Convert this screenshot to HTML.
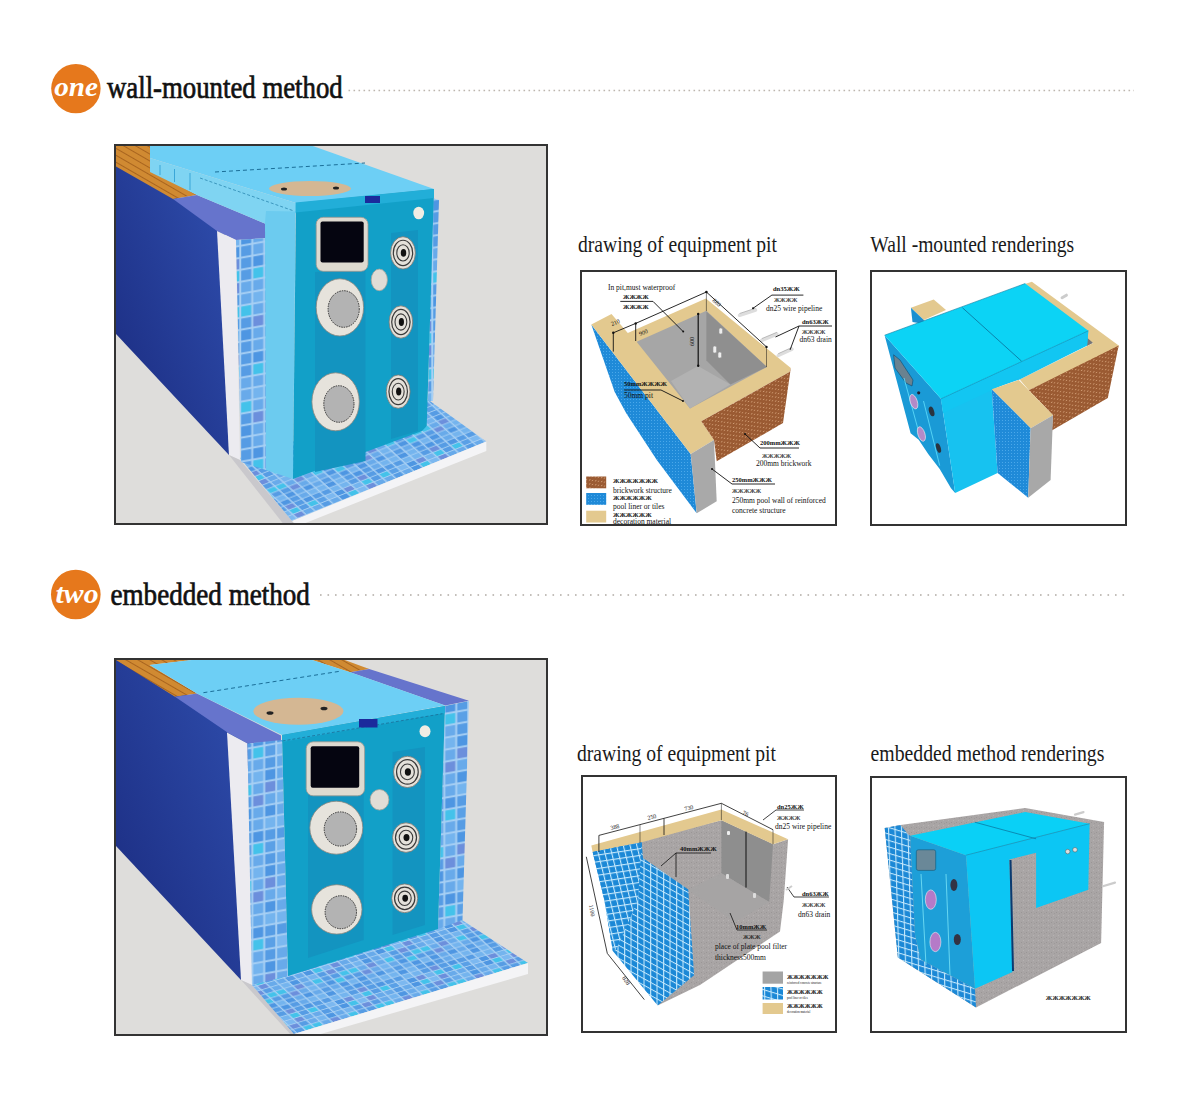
<!DOCTYPE html>
<html><head><meta charset="utf-8">
<style>
html,body{margin:0;padding:0;background:#fff;width:1200px;height:1112px;overflow:hidden}
svg{display:block}
text{font-family:"Liberation Serif",serif}
</style></head><body>
<svg width="1200" height="1112" viewBox="0 0 1200 1112">
<defs>
<linearGradient id="gDark1" x1="0" y1="1" x2="1" y2="0">
 <stop offset="0" stop-color="#1a2a7e"/><stop offset="1" stop-color="#3050b0"/>
</linearGradient>
<linearGradient id="gDark4" x1="0" y1="1" x2="1" y2="0"><stop offset="0" stop-color="#1a2a7e"/><stop offset="1" stop-color="#3050b0"/></linearGradient><pattern id="wood" width="6" height="6" patternUnits="userSpaceOnUse" patternTransform="rotate(30)">
 <rect width="6" height="6" fill="#d08a32"/><rect y="4" width="6" height="1" fill="#a8641e"/>
</pattern>
<pattern id="tiles" width="8" height="8" patternUnits="userSpaceOnUse">
 <rect width="8" height="8" fill="#e6f2fc"/>
 <rect x="0.5" y="0.5" width="7" height="7" fill="#5aa2e6"/>
</pattern>
<pattern id="btile" width="3" height="3" patternUnits="userSpaceOnUse">
 <rect width="3" height="3" fill="#1f8ad8"/><rect width="1" height="1" fill="#4aa8ea"/>
</pattern>
<pattern id="gtile" width="6.5" height="6.5" patternUnits="userSpaceOnUse" patternTransform="matrix(1,0.3,0.03,1,0,0)"><rect width="6.5" height="6.5" fill="#c4e8fc"/><rect x="1.1" y="1.1" width="5.4" height="5.4" fill="#1b88d6"/></pattern><pattern id="gtileL" width="6.5" height="6.5" patternUnits="userSpaceOnUse" patternTransform="matrix(1,-0.15,0.25,1,0,0)"><rect width="6.5" height="6.5" fill="#c4e8fc"/><rect x="1.1" y="1.1" width="5.4" height="5.4" fill="#1b88d6"/></pattern><pattern id="gtile2" width="6.5" height="6.5" patternUnits="userSpaceOnUse" patternTransform="matrix(1,0.55,0,1,0,0)"><rect width="6.5" height="6.5" fill="#c4e8fc"/><rect x="1.1" y="1.1" width="5.4" height="5.4" fill="#1b88d6"/></pattern>
<pattern id="brick" width="6" height="4" patternUnits="userSpaceOnUse" patternTransform="skewY(-28)">
 <rect width="6" height="4" fill="#9a5a32"/><rect x="1" y="1" width="1.2" height="1" fill="#e0b088"/><rect x="4" y="3" width="1.2" height="1" fill="#d8a47a"/>
</pattern>
<pattern id="conc" width="5" height="5" patternUnits="userSpaceOnUse"><rect width="5" height="5" fill="#a9a5a5"/><rect x="1" y="2" width="1" height="1" fill="#9a9696"/><rect x="3" y="0" width="1" height="1" fill="#b6b2b2"/><rect x="4" y="3" width="1" height="1" fill="#9e9a9a"/></pattern>
<pattern id="mosW" width="40" height="40" patternUnits="userSpaceOnUse" patternTransform="skewY(-10) scale(2.4)"><rect width="40" height="40" fill="#a8d0f4"/><rect x="0.5" y="0.5" width="4.2" height="4.2" fill="#4e96e2"/><rect x="0.5" y="5.5" width="4.2" height="4.2" fill="#74b4ee"/><rect x="0.5" y="10.5" width="4.2" height="4.2" fill="#4e96e2"/><rect x="0.5" y="15.5" width="4.2" height="4.2" fill="#4e96e2"/><rect x="0.5" y="20.5" width="4.2" height="4.2" fill="#74b4ee"/><rect x="0.5" y="25.5" width="4.2" height="4.2" fill="#44c2ea"/><rect x="0.5" y="30.5" width="4.2" height="4.2" fill="#68aaea"/><rect x="0.5" y="35.5" width="4.2" height="4.2" fill="#569ce4"/><rect x="5.5" y="0.5" width="4.2" height="4.2" fill="#74b4ee"/><rect x="5.5" y="5.5" width="4.2" height="4.2" fill="#74b4ee"/><rect x="5.5" y="10.5" width="4.2" height="4.2" fill="#6c8fdc"/><rect x="5.5" y="15.5" width="4.2" height="4.2" fill="#44c2ea"/><rect x="5.5" y="20.5" width="4.2" height="4.2" fill="#569ce4"/><rect x="5.5" y="25.5" width="4.2" height="4.2" fill="#569ce4"/><rect x="5.5" y="30.5" width="4.2" height="4.2" fill="#4e96e2"/><rect x="5.5" y="35.5" width="4.2" height="4.2" fill="#68aaea"/><rect x="10.5" y="0.5" width="4.2" height="4.2" fill="#569ce4"/><rect x="10.5" y="5.5" width="4.2" height="4.2" fill="#569ce4"/><rect x="10.5" y="10.5" width="4.2" height="4.2" fill="#74b4ee"/><rect x="10.5" y="15.5" width="4.2" height="4.2" fill="#7cb8f0"/><rect x="10.5" y="20.5" width="4.2" height="4.2" fill="#6c8fdc"/><rect x="10.5" y="25.5" width="4.2" height="4.2" fill="#569ce4"/><rect x="10.5" y="30.5" width="4.2" height="4.2" fill="#44c2ea"/><rect x="10.5" y="35.5" width="4.2" height="4.2" fill="#4e96e2"/><rect x="15.5" y="0.5" width="4.2" height="4.2" fill="#4e96e2"/><rect x="15.5" y="5.5" width="4.2" height="4.2" fill="#6c8fdc"/><rect x="15.5" y="10.5" width="4.2" height="4.2" fill="#44c2ea"/><rect x="15.5" y="15.5" width="4.2" height="4.2" fill="#6c8fdc"/><rect x="15.5" y="20.5" width="4.2" height="4.2" fill="#569ce4"/><rect x="15.5" y="25.5" width="4.2" height="4.2" fill="#44c2ea"/><rect x="15.5" y="30.5" width="4.2" height="4.2" fill="#569ce4"/><rect x="15.5" y="35.5" width="4.2" height="4.2" fill="#74b4ee"/><rect x="20.5" y="0.5" width="4.2" height="4.2" fill="#569ce4"/><rect x="20.5" y="5.5" width="4.2" height="4.2" fill="#569ce4"/><rect x="20.5" y="10.5" width="4.2" height="4.2" fill="#569ce4"/><rect x="20.5" y="15.5" width="4.2" height="4.2" fill="#68aaea"/><rect x="20.5" y="20.5" width="4.2" height="4.2" fill="#68aaea"/><rect x="20.5" y="25.5" width="4.2" height="4.2" fill="#44c2ea"/><rect x="20.5" y="30.5" width="4.2" height="4.2" fill="#569ce4"/><rect x="20.5" y="35.5" width="4.2" height="4.2" fill="#4e96e2"/><rect x="25.5" y="0.5" width="4.2" height="4.2" fill="#68aaea"/><rect x="25.5" y="5.5" width="4.2" height="4.2" fill="#4e96e2"/><rect x="25.5" y="10.5" width="4.2" height="4.2" fill="#44c2ea"/><rect x="25.5" y="15.5" width="4.2" height="4.2" fill="#68aaea"/><rect x="25.5" y="20.5" width="4.2" height="4.2" fill="#74b4ee"/><rect x="25.5" y="25.5" width="4.2" height="4.2" fill="#68aaea"/><rect x="25.5" y="30.5" width="4.2" height="4.2" fill="#6c8fdc"/><rect x="25.5" y="35.5" width="4.2" height="4.2" fill="#68aaea"/><rect x="30.5" y="0.5" width="4.2" height="4.2" fill="#74b4ee"/><rect x="30.5" y="5.5" width="4.2" height="4.2" fill="#569ce4"/><rect x="30.5" y="10.5" width="4.2" height="4.2" fill="#5aa0e6"/><rect x="30.5" y="15.5" width="4.2" height="4.2" fill="#569ce4"/><rect x="30.5" y="20.5" width="4.2" height="4.2" fill="#4e96e2"/><rect x="30.5" y="25.5" width="4.2" height="4.2" fill="#6c8fdc"/><rect x="30.5" y="30.5" width="4.2" height="4.2" fill="#68aaea"/><rect x="30.5" y="35.5" width="4.2" height="4.2" fill="#4e96e2"/><rect x="35.5" y="0.5" width="4.2" height="4.2" fill="#74b4ee"/><rect x="35.5" y="5.5" width="4.2" height="4.2" fill="#569ce4"/><rect x="35.5" y="10.5" width="4.2" height="4.2" fill="#7cb8f0"/><rect x="35.5" y="15.5" width="4.2" height="4.2" fill="#68aaea"/><rect x="35.5" y="20.5" width="4.2" height="4.2" fill="#68aaea"/><rect x="35.5" y="25.5" width="4.2" height="4.2" fill="#68aaea"/><rect x="35.5" y="30.5" width="4.2" height="4.2" fill="#74b4ee"/><rect x="35.5" y="35.5" width="4.2" height="4.2" fill="#68aaea"/></pattern><pattern id="mosF1" width="40" height="40" patternUnits="userSpaceOnUse" patternTransform="matrix(1.8,-0.72,0.9,0.82,0,0)"><rect width="40" height="40" fill="#a8d0f4"/><rect x="0.5" y="0.5" width="4.2" height="4.2" fill="#4e96e2"/><rect x="0.5" y="5.5" width="4.2" height="4.2" fill="#74b4ee"/><rect x="0.5" y="10.5" width="4.2" height="4.2" fill="#4e96e2"/><rect x="0.5" y="15.5" width="4.2" height="4.2" fill="#4e96e2"/><rect x="0.5" y="20.5" width="4.2" height="4.2" fill="#74b4ee"/><rect x="0.5" y="25.5" width="4.2" height="4.2" fill="#44c2ea"/><rect x="0.5" y="30.5" width="4.2" height="4.2" fill="#68aaea"/><rect x="0.5" y="35.5" width="4.2" height="4.2" fill="#569ce4"/><rect x="5.5" y="0.5" width="4.2" height="4.2" fill="#74b4ee"/><rect x="5.5" y="5.5" width="4.2" height="4.2" fill="#74b4ee"/><rect x="5.5" y="10.5" width="4.2" height="4.2" fill="#6c8fdc"/><rect x="5.5" y="15.5" width="4.2" height="4.2" fill="#44c2ea"/><rect x="5.5" y="20.5" width="4.2" height="4.2" fill="#569ce4"/><rect x="5.5" y="25.5" width="4.2" height="4.2" fill="#569ce4"/><rect x="5.5" y="30.5" width="4.2" height="4.2" fill="#4e96e2"/><rect x="5.5" y="35.5" width="4.2" height="4.2" fill="#68aaea"/><rect x="10.5" y="0.5" width="4.2" height="4.2" fill="#569ce4"/><rect x="10.5" y="5.5" width="4.2" height="4.2" fill="#569ce4"/><rect x="10.5" y="10.5" width="4.2" height="4.2" fill="#74b4ee"/><rect x="10.5" y="15.5" width="4.2" height="4.2" fill="#7cb8f0"/><rect x="10.5" y="20.5" width="4.2" height="4.2" fill="#6c8fdc"/><rect x="10.5" y="25.5" width="4.2" height="4.2" fill="#569ce4"/><rect x="10.5" y="30.5" width="4.2" height="4.2" fill="#44c2ea"/><rect x="10.5" y="35.5" width="4.2" height="4.2" fill="#4e96e2"/><rect x="15.5" y="0.5" width="4.2" height="4.2" fill="#4e96e2"/><rect x="15.5" y="5.5" width="4.2" height="4.2" fill="#6c8fdc"/><rect x="15.5" y="10.5" width="4.2" height="4.2" fill="#44c2ea"/><rect x="15.5" y="15.5" width="4.2" height="4.2" fill="#6c8fdc"/><rect x="15.5" y="20.5" width="4.2" height="4.2" fill="#569ce4"/><rect x="15.5" y="25.5" width="4.2" height="4.2" fill="#44c2ea"/><rect x="15.5" y="30.5" width="4.2" height="4.2" fill="#569ce4"/><rect x="15.5" y="35.5" width="4.2" height="4.2" fill="#74b4ee"/><rect x="20.5" y="0.5" width="4.2" height="4.2" fill="#569ce4"/><rect x="20.5" y="5.5" width="4.2" height="4.2" fill="#569ce4"/><rect x="20.5" y="10.5" width="4.2" height="4.2" fill="#569ce4"/><rect x="20.5" y="15.5" width="4.2" height="4.2" fill="#68aaea"/><rect x="20.5" y="20.5" width="4.2" height="4.2" fill="#68aaea"/><rect x="20.5" y="25.5" width="4.2" height="4.2" fill="#44c2ea"/><rect x="20.5" y="30.5" width="4.2" height="4.2" fill="#569ce4"/><rect x="20.5" y="35.5" width="4.2" height="4.2" fill="#4e96e2"/><rect x="25.5" y="0.5" width="4.2" height="4.2" fill="#68aaea"/><rect x="25.5" y="5.5" width="4.2" height="4.2" fill="#4e96e2"/><rect x="25.5" y="10.5" width="4.2" height="4.2" fill="#44c2ea"/><rect x="25.5" y="15.5" width="4.2" height="4.2" fill="#68aaea"/><rect x="25.5" y="20.5" width="4.2" height="4.2" fill="#74b4ee"/><rect x="25.5" y="25.5" width="4.2" height="4.2" fill="#68aaea"/><rect x="25.5" y="30.5" width="4.2" height="4.2" fill="#6c8fdc"/><rect x="25.5" y="35.5" width="4.2" height="4.2" fill="#68aaea"/><rect x="30.5" y="0.5" width="4.2" height="4.2" fill="#74b4ee"/><rect x="30.5" y="5.5" width="4.2" height="4.2" fill="#569ce4"/><rect x="30.5" y="10.5" width="4.2" height="4.2" fill="#5aa0e6"/><rect x="30.5" y="15.5" width="4.2" height="4.2" fill="#569ce4"/><rect x="30.5" y="20.5" width="4.2" height="4.2" fill="#4e96e2"/><rect x="30.5" y="25.5" width="4.2" height="4.2" fill="#6c8fdc"/><rect x="30.5" y="30.5" width="4.2" height="4.2" fill="#68aaea"/><rect x="30.5" y="35.5" width="4.2" height="4.2" fill="#4e96e2"/><rect x="35.5" y="0.5" width="4.2" height="4.2" fill="#74b4ee"/><rect x="35.5" y="5.5" width="4.2" height="4.2" fill="#569ce4"/><rect x="35.5" y="10.5" width="4.2" height="4.2" fill="#7cb8f0"/><rect x="35.5" y="15.5" width="4.2" height="4.2" fill="#68aaea"/><rect x="35.5" y="20.5" width="4.2" height="4.2" fill="#68aaea"/><rect x="35.5" y="25.5" width="4.2" height="4.2" fill="#68aaea"/><rect x="35.5" y="30.5" width="4.2" height="4.2" fill="#74b4ee"/><rect x="35.5" y="35.5" width="4.2" height="4.2" fill="#68aaea"/></pattern><pattern id="mosF2" width="40" height="40" patternUnits="userSpaceOnUse" patternTransform="matrix(1.8,-0.54,0.9,0.82,0,0)"><rect width="40" height="40" fill="#a8d0f4"/><rect x="0.5" y="0.5" width="4.2" height="4.2" fill="#4e96e2"/><rect x="0.5" y="5.5" width="4.2" height="4.2" fill="#74b4ee"/><rect x="0.5" y="10.5" width="4.2" height="4.2" fill="#4e96e2"/><rect x="0.5" y="15.5" width="4.2" height="4.2" fill="#4e96e2"/><rect x="0.5" y="20.5" width="4.2" height="4.2" fill="#74b4ee"/><rect x="0.5" y="25.5" width="4.2" height="4.2" fill="#44c2ea"/><rect x="0.5" y="30.5" width="4.2" height="4.2" fill="#68aaea"/><rect x="0.5" y="35.5" width="4.2" height="4.2" fill="#569ce4"/><rect x="5.5" y="0.5" width="4.2" height="4.2" fill="#74b4ee"/><rect x="5.5" y="5.5" width="4.2" height="4.2" fill="#74b4ee"/><rect x="5.5" y="10.5" width="4.2" height="4.2" fill="#6c8fdc"/><rect x="5.5" y="15.5" width="4.2" height="4.2" fill="#44c2ea"/><rect x="5.5" y="20.5" width="4.2" height="4.2" fill="#569ce4"/><rect x="5.5" y="25.5" width="4.2" height="4.2" fill="#569ce4"/><rect x="5.5" y="30.5" width="4.2" height="4.2" fill="#4e96e2"/><rect x="5.5" y="35.5" width="4.2" height="4.2" fill="#68aaea"/><rect x="10.5" y="0.5" width="4.2" height="4.2" fill="#569ce4"/><rect x="10.5" y="5.5" width="4.2" height="4.2" fill="#569ce4"/><rect x="10.5" y="10.5" width="4.2" height="4.2" fill="#74b4ee"/><rect x="10.5" y="15.5" width="4.2" height="4.2" fill="#7cb8f0"/><rect x="10.5" y="20.5" width="4.2" height="4.2" fill="#6c8fdc"/><rect x="10.5" y="25.5" width="4.2" height="4.2" fill="#569ce4"/><rect x="10.5" y="30.5" width="4.2" height="4.2" fill="#44c2ea"/><rect x="10.5" y="35.5" width="4.2" height="4.2" fill="#4e96e2"/><rect x="15.5" y="0.5" width="4.2" height="4.2" fill="#4e96e2"/><rect x="15.5" y="5.5" width="4.2" height="4.2" fill="#6c8fdc"/><rect x="15.5" y="10.5" width="4.2" height="4.2" fill="#44c2ea"/><rect x="15.5" y="15.5" width="4.2" height="4.2" fill="#6c8fdc"/><rect x="15.5" y="20.5" width="4.2" height="4.2" fill="#569ce4"/><rect x="15.5" y="25.5" width="4.2" height="4.2" fill="#44c2ea"/><rect x="15.5" y="30.5" width="4.2" height="4.2" fill="#569ce4"/><rect x="15.5" y="35.5" width="4.2" height="4.2" fill="#74b4ee"/><rect x="20.5" y="0.5" width="4.2" height="4.2" fill="#569ce4"/><rect x="20.5" y="5.5" width="4.2" height="4.2" fill="#569ce4"/><rect x="20.5" y="10.5" width="4.2" height="4.2" fill="#569ce4"/><rect x="20.5" y="15.5" width="4.2" height="4.2" fill="#68aaea"/><rect x="20.5" y="20.5" width="4.2" height="4.2" fill="#68aaea"/><rect x="20.5" y="25.5" width="4.2" height="4.2" fill="#44c2ea"/><rect x="20.5" y="30.5" width="4.2" height="4.2" fill="#569ce4"/><rect x="20.5" y="35.5" width="4.2" height="4.2" fill="#4e96e2"/><rect x="25.5" y="0.5" width="4.2" height="4.2" fill="#68aaea"/><rect x="25.5" y="5.5" width="4.2" height="4.2" fill="#4e96e2"/><rect x="25.5" y="10.5" width="4.2" height="4.2" fill="#44c2ea"/><rect x="25.5" y="15.5" width="4.2" height="4.2" fill="#68aaea"/><rect x="25.5" y="20.5" width="4.2" height="4.2" fill="#74b4ee"/><rect x="25.5" y="25.5" width="4.2" height="4.2" fill="#68aaea"/><rect x="25.5" y="30.5" width="4.2" height="4.2" fill="#6c8fdc"/><rect x="25.5" y="35.5" width="4.2" height="4.2" fill="#68aaea"/><rect x="30.5" y="0.5" width="4.2" height="4.2" fill="#74b4ee"/><rect x="30.5" y="5.5" width="4.2" height="4.2" fill="#569ce4"/><rect x="30.5" y="10.5" width="4.2" height="4.2" fill="#5aa0e6"/><rect x="30.5" y="15.5" width="4.2" height="4.2" fill="#569ce4"/><rect x="30.5" y="20.5" width="4.2" height="4.2" fill="#4e96e2"/><rect x="30.5" y="25.5" width="4.2" height="4.2" fill="#6c8fdc"/><rect x="30.5" y="30.5" width="4.2" height="4.2" fill="#68aaea"/><rect x="30.5" y="35.5" width="4.2" height="4.2" fill="#4e96e2"/><rect x="35.5" y="0.5" width="4.2" height="4.2" fill="#74b4ee"/><rect x="35.5" y="5.5" width="4.2" height="4.2" fill="#569ce4"/><rect x="35.5" y="10.5" width="4.2" height="4.2" fill="#7cb8f0"/><rect x="35.5" y="15.5" width="4.2" height="4.2" fill="#68aaea"/><rect x="35.5" y="20.5" width="4.2" height="4.2" fill="#68aaea"/><rect x="35.5" y="25.5" width="4.2" height="4.2" fill="#68aaea"/><rect x="35.5" y="30.5" width="4.2" height="4.2" fill="#74b4ee"/><rect x="35.5" y="35.5" width="4.2" height="4.2" fill="#68aaea"/></pattern></defs>
<rect width="1200" height="1112" fill="#fff"/>

<!-- HEADER 1 -->
<circle cx="75.9" cy="88.6" r="24.7" fill="#e6781c"/>
<text transform="translate(54.3,96.3) scale(1.1,1)" font-size="26.5" font-style="italic" font-weight="bold" fill="#fff">one</text>
<text transform="translate(107,98.2) scale(0.845,1)" font-size="31.7" fill="#111" stroke="#111" stroke-width="0.7">wall-mounted method</text>
<line x1="348.5" y1="90.5" x2="1134" y2="90.5" stroke="#bdb6ae" stroke-width="1.6" stroke-dasharray="1.6 3.4"/>

<!-- HEADER 2 -->
<circle cx="75.8" cy="594.5" r="24.8" fill="#e6781c"/>
<text transform="translate(55.6,603) scale(1.1,1)" font-size="27" font-style="italic" font-weight="bold" fill="#fff">two</text>
<text transform="translate(110.5,605) scale(0.855,1)" font-size="31.7" fill="#111" stroke="#111" stroke-width="0.7">embedded method</text>
<line x1="320" y1="595" x2="1129" y2="595" stroke="#b0aaa4" stroke-width="1.6" stroke-dasharray="1.6 5.9"/>

<!-- SUBTITLES -->
<text transform="translate(578,252.3) scale(0.854,1)" font-size="23" fill="#1a1a1a">drawing of equipment pit</text>
<text transform="translate(870.3,252) scale(0.851,1)" font-size="23" fill="#1a1a1a">Wall -mounted renderings</text>
<text transform="translate(577,761) scale(0.854,1)" font-size="23" fill="#1a1a1a">drawing of equipment pit</text>
<text transform="translate(870.5,761) scale(0.86,1)" font-size="23" fill="#1a1a1a">embedded method renderings</text>

<!-- FRAMES -->
<rect x="115" y="145" width="432" height="379" fill="#dedddb" stroke="#333" stroke-width="2"/>
<rect x="581" y="271" width="255" height="254" fill="#fff" stroke="#333" stroke-width="2"/>
<rect x="871" y="271" width="255" height="254" fill="#fff" stroke="#333" stroke-width="2"/>
<rect x="115" y="659" width="432" height="376" fill="#dedddb" stroke="#333" stroke-width="2"/>
<rect x="582" y="776" width="254" height="256" fill="#fff" stroke="#333" stroke-width="2"/>
<rect x="871" y="777" width="255" height="255" fill="#fff" stroke="#333" stroke-width="2"/>

<!-- F1 wall-mounted big render -->
<g id="f1">
<clipPath id="c1"><rect x="116" y="146" width="430" height="377"/></clipPath>
<g clip-path="url(#c1)">
<polygon points="115,160 225,228 229,455 115,333" fill="url(#gDark1)"/>
<polygon points="115,145 150,145 150,170 197,195 173,199 115,166" fill="url(#wood)"/>
<polygon points="173,199 197,195 266,224 266,238 236,240 217,231" fill="#6674cc"/>
<polygon points="217,231 236,240 240,460 229,455" fill="#ecebf0"/>
<polygon points="229,455 240,460 293,522 293,526 285,526" fill="#c9c8cc"/>
<polygon points="240,458 428.5,400 486.3,441.6 292,521" fill="url(#mosF1)"/>
<polygon points="292,521 486.3,441.6 486.3,451 298,526" fill="#f4f4f6"/>
<polygon points="236,240 266,238 266,470 241,462" fill="url(#mosW)"/>
<polygon points="432,198 439,200 433,401 428,401" fill="url(#mosW)"/>
<polygon points="150,145 310,145 434,189 296,203 150,158" fill="#6dcff5"/>
<polygon points="150,158 296,203 296,213 266,224 197,195 150,172" fill="#7fd4f2"/>
<polygon points="265,223 266,211 295.6,211.6 293,479 266,470" fill="#6ccbef"/>
<polygon points="296,203 434,189 428.5,370 426.7,426 422,431 293,479" fill="#12a0c8"/>
<polygon points="295.6,202.6 434,189 434,198 295.6,212.5" fill="#22aed8"/>
<polygon points="315,272 365.5,268 365.5,461 315,472" fill="#1394c0"/>
<polygon points="391,233 418,230 418,431 391,439" fill="#1394c0"/>
<line x1="215" y1="172" x2="365" y2="163" stroke="#1a6e98" stroke-width="1" stroke-dasharray="4 3"/><line x1="200" y1="178" x2="294" y2="211" stroke="#2a86b0" stroke-width="0.8" stroke-dasharray="3 2"/><g stroke="#3aa6d8" stroke-width="1"><line x1="160" y1="165" x2="160" y2="175"/><line x1="174.5" y1="169" x2="174.5" y2="182"/><line x1="190" y1="173" x2="190" y2="190"/></g>
<ellipse cx="310" cy="188.5" rx="41" ry="7.5" fill="#d4b793"/>
<ellipse cx="284" cy="189" rx="3" ry="1.5" fill="#222"/>
<ellipse cx="336" cy="188" rx="3" ry="1.5" fill="#222"/>
<rect x="365" y="196" width="15" height="7" fill="#1b2a9c"/>
<rect x="316.2" y="217.3" width="51.8" height="54" rx="7" fill="#dedad0" stroke="#9c9890" stroke-width="0.8"/><rect x="320.5" y="221.6" width="43.2" height="41" rx="2" fill="#050510"/><ellipse cx="418.7" cy="213" rx="5.4" ry="6.3" fill="#f0ede4"/><ellipse cx="379.3" cy="279.9" rx="8.1" ry="10.8" fill="#e0ddd6" stroke="#a8a49c" stroke-width="0.8"/><g><ellipse cx="339.9" cy="307.4" rx="23.7" ry="28.6" fill="#e6e3dc" stroke="#8a867e" stroke-width="0.8"/><ellipse cx="343.7" cy="309" rx="15.6" ry="18.3" fill="#b3b3b3" stroke="#333" stroke-width="1" stroke-dasharray="1.5 1"/></g><g><ellipse cx="335.6" cy="401.8" rx="23.7" ry="29" fill="#e6e3dc" stroke="#8a867e" stroke-width="0.8"/><ellipse cx="338.9" cy="404" rx="15.1" ry="18.3" fill="#b3b3b3" stroke="#333" stroke-width="1" stroke-dasharray="1.5 1"/></g><g><ellipse cx="403" cy="252.9" rx="12.4" ry="16.2" fill="#e4e1da" stroke="#7a7670" stroke-width="0.8"/><ellipse cx="403" cy="252.9" rx="9.67" ry="12.64" fill="none" stroke="#3a3a3a" stroke-width="1.2"/><ellipse cx="403" cy="252.9" rx="6.20" ry="8.10" fill="none" stroke="#3a3a3a" stroke-width="1.1"/><ellipse cx="403.5" cy="252.9" rx="2.73" ry="3.89" fill="#111"/></g><g><ellipse cx="400.9" cy="322" rx="11.8" ry="16.2" fill="#e4e1da" stroke="#7a7670" stroke-width="0.8"/><ellipse cx="400.9" cy="322" rx="9.20" ry="12.64" fill="none" stroke="#3a3a3a" stroke-width="1.2"/><ellipse cx="400.9" cy="322" rx="5.90" ry="8.10" fill="none" stroke="#3a3a3a" stroke-width="1.1"/><ellipse cx="401.4" cy="322" rx="2.60" ry="3.89" fill="#111"/></g><g><ellipse cx="398.2" cy="391.6" rx="11.9" ry="16.7" fill="#e4e1da" stroke="#7a7670" stroke-width="0.8"/><ellipse cx="398.2" cy="391.6" rx="9.28" ry="13.03" fill="none" stroke="#3a3a3a" stroke-width="1.2"/><ellipse cx="398.2" cy="391.6" rx="5.95" ry="8.35" fill="none" stroke="#3a3a3a" stroke-width="1.1"/><ellipse cx="398.7" cy="391.6" rx="2.62" ry="4.01" fill="#111"/></g>
</g>
</g>

<!-- F2 drawing pit 1 -->
<g id="f2">
<polygon points="591.3,324.5 614.7,392 626.4,413.6 657,460.3 696.7,513.3 690.7,454" fill="url(#btile)"/>
<polygon points="591.3,324.5 611.5,314 627.8,332.9 705.9,298.5 790.8,368.1 789.5,371.9 701.3,421.3 714,440 690.7,454" fill="#e3c98f"/>
<polygon points="636.6,341.7 706.4,310.8 766.9,366.9 690,408.4" fill="#a6a6a6"/>
<polygon points="706.4,311.5 766.9,366.9 730.4,384.5 706.4,360.6" fill="#8f8f8f"/>
<polygon points="671,381 698,366 730.4,384.5 690,408.4" fill="#b2b2b2"/>
<polygon points="701.3,421.3 789.5,371.9 790.8,368.1 783,423 716.7,461.3 714,440" fill="url(#brick)"/>
<polygon points="690.7,454 714,440 716.7,501.3 696.7,513.3" fill="#a9a9a9"/>
<g fill="#eee" stroke="#999" stroke-width="0.6">
<rect x="719" y="328" width="3.5" height="6" rx="1.5"/>
<rect x="713" y="346" width="3.5" height="7" rx="1.5"/>
<rect x="718" y="352" width="3.5" height="6" rx="1.5"/>
</g>
<g stroke="#ddd" stroke-width="3.5" stroke-linecap="round">
<line x1="739.5" y1="315.3" x2="755.5" y2="310"/>
<line x1="761.8" y1="340.4" x2="776.9" y2="334.1"/>
<line x1="778.2" y1="355.5" x2="792" y2="349.2"/>
</g>
<g stroke="#999" stroke-width="0.6" fill="none">
<line x1="739.5" y1="313.5" x2="755.5" y2="308.2"/>
<line x1="761.8" y1="338.6" x2="776.9" y2="332.3"/>
<line x1="778.2" y1="353.7" x2="792" y2="347.4"/>
</g>
<g stroke="#111" stroke-width="0.9" fill="none">
<polyline points="613.3,332.8 635.7,323.4 706.4,292 766.5,346.9"/>
<line x1="613.3" y1="332.8" x2="613.3" y2="351.6"/>
<line x1="635.7" y1="323.4" x2="635.7" y2="341"/>
<line x1="706.4" y1="292" x2="706.4" y2="311" stroke-width="0.5"/>
<line x1="766.5" y1="346.9" x2="766.5" y2="367" stroke-width="0.5"/>
<line x1="698.2" y1="313.9" x2="698.2" y2="365.8" stroke-width="1.2"/>
<polyline points="620.3,301.4 653,301.4 683.2,331.6"/>
<polyline points="624,390 661,390 683,401"/>
<polyline points="753,308.3 771.9,295.1 803.4,295.1"/>
<polyline points="775.5,337 799,326 832,326"/>
<line x1="799" y1="326" x2="790" y2="350"/>
<polyline points="745,434 760,448 799,448"/>
<polyline points="712,469 732,484 775,484"/>
</g>
<g fill="#111">
<circle cx="613.3" cy="332.8" r="1.2"/><circle cx="635.7" cy="323.4" r="1.2"/><circle cx="706.4" cy="292" r="1.3"/><circle cx="766.5" cy="346.9" r="1.2"/><circle cx="698.2" cy="313.9" r="1.2"/><circle cx="698.2" cy="365.8" r="1.2"/>
<circle cx="683.2" cy="331.6" r="1"/><circle cx="683" cy="401" r="1"/><circle cx="753" cy="308.3" r="1"/><circle cx="745" cy="434" r="1"/><circle cx="712" cy="469" r="1"/>
</g>
<g font-size="7.5" fill="#111">
<text x="608" y="289.5">In pit,must waterproof</text>
<text x="623" y="299" font-size="6.5" font-weight="bold">ЖЖЖЖ</text>
<text x="623" y="308.5" font-size="6.5" font-weight="bold">ЖЖЖЖ</text>
<text x="773" y="291" font-size="6.5" font-weight="bold">dn35ЖЖ</text>
<text x="774" y="302" font-size="6.5">ЖЖЖЖ</text>
<text x="766" y="311">dn25 wire pipeline</text>
<text x="802" y="323.5" font-size="6.5" font-weight="bold">dn63ЖЖ</text>
<text x="802" y="333.5" font-size="6.5">ЖЖЖЖ</text>
<text x="799.5" y="342">dn63 drain</text>
<text x="624" y="386" font-size="6.5" font-weight="bold">50mmЖЖЖЖ</text>
<text x="624" y="398">50mm pit</text>
<text x="760" y="445" font-size="6.5" font-weight="bold">200mmЖЖЖ</text>
<text x="762" y="458" font-size="6.5">ЖЖЖЖЖ</text>
<text x="756" y="466">200mm brickwork</text>
<text x="732" y="482" font-size="6.5" font-weight="bold">250mmЖЖЖ</text>
<text x="732" y="493" font-size="6.5">ЖЖЖЖЖ</text>
<text x="732" y="503">250mm pool wall of reinforced</text>
<text x="732" y="513">concrete structure</text>
<text x="613" y="483" font-size="6.5" font-weight="bold">ЖЖЖЖЖЖЖ</text>
<text x="613" y="493">brickwork structure</text>
<text x="613" y="500" font-size="6.5" font-weight="bold">ЖЖЖЖЖЖ</text>
<text x="613" y="509">pool liner or tiles</text>
<text x="613" y="517" font-size="6.5" font-weight="bold">ЖЖЖЖЖЖ</text>
<text x="613" y="524">decoration material</text>
<text transform="translate(640,336) rotate(-22)" font-size="6">900</text>
<text transform="translate(612,326) rotate(-22)" font-size="6">210</text>
<text transform="translate(712,301) rotate(42)" font-size="6">880</text>
<text transform="translate(694,346) rotate(-90)" font-size="6">600</text>
</g>
<rect x="586.2" y="476.5" width="20" height="11.8" fill="url(#brick)"/>
<rect x="586.2" y="493" width="20" height="11.8" fill="url(#btile)"/>
<rect x="586.2" y="510.7" width="20" height="11.8" fill="#e3c98f"/>
</g>
<!-- F3 wall-mounted renderings -->
<g id="f3">
<polygon points="1087,331 1093,343 1087,346" fill="#777"/>
<polygon points="1031.9,281.7 1118.7,345.4 1118,349 1028.8,390.3 1019.7,379.4 1093.2,343 1025,284" fill="#e3c98f"/>
<polygon points="1028.8,390.3 1118.7,345.4 1107.8,398 1051.8,430.6 1053,415.3" fill="url(#brick)"/>
<polygon points="910.9,307.7 933.7,299.5 946,310 923.8,320" fill="#e3c98f"/>
<polygon points="910.9,307.7 923.8,320 924,324 912.5,322" fill="#1a8fd0"/>
<polygon points="884.6,335.2 941,398.8 955.2,493 951,488.3 939.7,468.9 928.4,454.3 918.7,439.7 910.6,433.3" fill="#1a9ad6"/>
<polygon points="941,398.8 1088.3,330.8 1087.1,345.4 1019.7,379.4 991.7,389.3 997.6,473 955.2,493" fill="#17c2f0"/>
<polygon points="884.6,335.2 1025.2,283.5 1088.3,330.8 941,398.8" fill="#0cd3f5"/>
<polygon points="941,398.8 1088.3,330.8 1087.1,345.4 943,413" fill="#12c6f2"/>
<line x1="962.4" y1="307.7" x2="1021.6" y2="361.2" stroke="#0a6f98" stroke-width="0.8"/>
<line x1="884.6" y1="335.2" x2="1025.2" y2="283.5" stroke="#0a7aa0" stroke-width="0.6"/>
<line x1="941" y1="398.8" x2="1088.3" y2="330.8" stroke="#0a8ab0" stroke-width="0.6"/>
<polygon points="893.6,354.8 900,360 913,380 912,386 906,383 895,368" fill="#6a8290" stroke="#0a4a70" stroke-width="0.6"/><line x1="904" y1="378" x2="920" y2="436.5" stroke="#5ad8f8" stroke-width="0.9"/><line x1="923.5" y1="401" x2="939.7" y2="465.6" stroke="#5ad8f8" stroke-width="0.9"/><ellipse cx="913.8" cy="401.7" rx="3.5" ry="7.5" fill="#b48ac8" stroke="#eee" stroke-width="0.6" transform="rotate(-18 913.8 401.7)"/><ellipse cx="921.4" cy="434" rx="3.5" ry="7.5" fill="#b48ac8" stroke="#eee" stroke-width="0.6" transform="rotate(-18 921.4 434)"/><ellipse cx="931.6" cy="411.4" rx="2.5" ry="5" fill="#2a3440" transform="rotate(-18 931.6 411.4)"/><ellipse cx="938.5" cy="448" rx="2.2" ry="5" fill="#2a3440" transform="rotate(-18 938.5 448)"/><circle cx="918.7" cy="392.8" r="1.6" fill="#223"/><polygon points="991.7,389.3 1018.8,379.9 1053,415.3 1030.6,428.2" fill="#e3c98f"/>
<polygon points="991.7,389.3 1030.6,428.2 1028.2,497.7 997.6,473" fill="url(#btile)"/>
<polygon points="1030.6,428.2 1053,415.3 1050.6,480.1 1028.2,497.7" fill="#a8a8a8"/>
<rect x="1060" y="295" width="8" height="3" rx="1.5" fill="#ccc" transform="rotate(-30 1064 296)"/>
</g>
<!-- F4 embedded big render -->
<g id="f4">
<clipPath id="c4"><rect x="116" y="660" width="430" height="374"/></clipPath>
<g clip-path="url(#c4)">
<polygon points="115,650 250,735 241,980 115,845" fill="url(#gDark4)"/>
<polygon points="115,659 200,659 149.6,665 197,693.5 175,696.7 115,659.5" fill="url(#wood)"/>
<polygon points="309,659 342,659 369.2,669 350.2,672.2" fill="url(#wood)"/>
<polygon points="175,696.7 197,693.5 281,735.5 281,741 247.7,743.4 227.2,732.3" fill="#6674cc"/>
<polygon points="350.2,672.2 369.2,669 468.9,700.7 445.2,705.4" fill="#6674cc"/>
<polygon points="227,732.5 247.5,743.5 252,985 241,980" fill="#ecebf0"/>
<polygon points="241,980 252,985 300,1036 292,1036" fill="#c9c8cc"/>
<polygon points="252,985 462,920 528,963 294,1034" fill="url(#mosF2)"/>
<polygon points="294,1034 528,963 528,974 300,1040" fill="#f4f4f6"/>
<polygon points="247.5,743.5 282,740 288,976 252,985" fill="url(#mosW)"/>
<polygon points="445,706 469,701 462.5,920 438,929" fill="url(#mosW)"/>
<polygon points="149.6,665 200,659 309,659 350.2,672.2 445.2,705.4 282,735 197,693.5" fill="#6dcff5"/>
<polygon points="282,735 445,706 438,929 288,976" fill="#12a0c8"/>
<polygon points="282,735 445,706 445,713 282,742" fill="#22aed8"/>
<line x1="282.5" y1="741" x2="442.5" y2="713.7" stroke="#1a6e98" stroke-width="0.8" stroke-dasharray="3 2"/>
<polygon points="308,794 363.7,790 363.7,940 308,958" fill="#1394c0"/>
<polygon points="392.5,752 425,747 425,925 392.5,935" fill="#1394c0"/>
<line x1="203.4" y1="692.7" x2="339" y2="671.4" stroke="#1a6e98" stroke-width="1" stroke-dasharray="4 3"/>
<ellipse cx="298.4" cy="711.2" rx="45" ry="13.5" fill="#d4b793"/>
<ellipse cx="270" cy="713" rx="3.5" ry="1.8" fill="#222"/>
<ellipse cx="324" cy="708.5" rx="3.5" ry="1.8" fill="#222"/>
<rect x="359" y="719" width="18.5" height="8.5" fill="#1b2a9c"/>
<rect x="306.2" y="741.8" width="58.4" height="54" rx="7" fill="#dedad0" stroke="#9c9890" stroke-width="0.8"/><rect x="310.7" y="746.3" width="48.5" height="41.4" rx="2" fill="#050510"/><ellipse cx="425" cy="731.2" rx="5.5" ry="6" fill="#f0ede4"/><ellipse cx="379.5" cy="799.8" rx="9.4" ry="10.3" fill="#e0ddd6" stroke="#a8a49c" stroke-width="0.8"/><g><ellipse cx="336.3" cy="827.7" rx="26.5" ry="26.5" fill="#e6e3dc" stroke="#8a867e" stroke-width="0.8"/><ellipse cx="340.4" cy="829" rx="16.2" ry="17.1" fill="#b3b3b3" stroke="#333" stroke-width="1" stroke-dasharray="1.5 1"/></g><g><ellipse cx="336.8" cy="909.4" rx="25.2" ry="24.7" fill="#e6e3dc" stroke="#8a867e" stroke-width="0.8"/><ellipse cx="340.8" cy="912.2" rx="15.7" ry="16.5" fill="#b3b3b3" stroke="#333" stroke-width="1" stroke-dasharray="1.5 1"/></g><g><ellipse cx="407.4" cy="771.9" rx="13.9" ry="15.7" fill="#e4e1da" stroke="#7a7670" stroke-width="0.8"/><ellipse cx="407.4" cy="771.9" rx="10.84" ry="12.25" fill="none" stroke="#3a3a3a" stroke-width="1.2"/><ellipse cx="407.4" cy="771.9" rx="6.95" ry="7.85" fill="none" stroke="#3a3a3a" stroke-width="1.1"/><ellipse cx="407.9" cy="771.9" rx="3.06" ry="3.77" fill="#111"/></g><g><ellipse cx="406" cy="837.6" rx="13.5" ry="14.8" fill="#e4e1da" stroke="#7a7670" stroke-width="0.8"/><ellipse cx="406" cy="837.6" rx="10.53" ry="11.54" fill="none" stroke="#3a3a3a" stroke-width="1.2"/><ellipse cx="406" cy="837.6" rx="6.75" ry="7.40" fill="none" stroke="#3a3a3a" stroke-width="1.1"/><ellipse cx="406.5" cy="837.6" rx="2.97" ry="3.55" fill="#111"/></g><g><ellipse cx="404.7" cy="898.3" rx="13" ry="14.4" fill="#e4e1da" stroke="#7a7670" stroke-width="0.8"/><ellipse cx="404.7" cy="898.3" rx="10.14" ry="11.23" fill="none" stroke="#3a3a3a" stroke-width="1.2"/><ellipse cx="404.7" cy="898.3" rx="6.50" ry="7.20" fill="none" stroke="#3a3a3a" stroke-width="1.1"/><ellipse cx="405.2" cy="898.3" rx="2.86" ry="3.46" fill="#111"/></g>
</g>
</g>
<!-- F5 drawing pit 2 -->
<g id="f5">
<polygon points="592.6,852 721.4,820.3 773,844.2 788.1,839.2 783.8,900 780,931.6 700,985 657.7,1005.6" fill="url(#conc)"/>
<polygon points="721.4,820.3 773,844.2 769.2,902.1 721.4,873.2" fill="#8e8e8e"/>
<polygon points="688,890 721.4,873.2 769.2,902.1 735,922" fill="#a6a4a4"/>
<polygon points="591.3,845.5 721.4,809.6 788.1,839.2 773,844.2 721.4,820.3 641.7,842.3 592.6,852" fill="#e3c98f"/>
<polygon points="592.6,852 641.7,842.3 643,858 688.3,889.5 694.1,975.3 657.7,1005.6 612.8,951 604.3,900" fill="url(#gtile2)"/><polygon points="592.6,852 641.7,842.3 638,900 617,948 612.8,951 604.3,900" fill="url(#gtileL)"/>
<g stroke="#111" stroke-width="0.8" fill="none">
<polyline points="598.9,835.4 721.4,803.3 773,829.7"/>
<line x1="598.9" y1="835.4" x2="598.9" y2="852"/>
<line x1="640" y1="825" x2="640" y2="843" stroke-width="0.5"/>
<line x1="664" y1="818.5" x2="664" y2="835" stroke-width="0.8"/>
<line x1="721.4" y1="803.3" x2="721.4" y2="820" stroke-width="0.5"/>
<line x1="773" y1="829.7" x2="773" y2="844" stroke-width="0.5"/>
<polyline points="586.3,856.8 607.3,953.4 644.3,999.6"/>
<line x1="746" y1="831.6" x2="746" y2="887.6" stroke-width="1"/>
<polyline points="661,866 676,853 711,853"/>
<line x1="676" y1="853" x2="676" y2="877"/>
<polyline points="763,820 776,810 804,810"/>
<polyline points="787,887 794,897 829,897"/>
<polyline points="730,913 737,930 767,930"/>
</g>
<g font-size="7.5" fill="#111">
<text x="611" y="830" font-size="6" transform="rotate(-15 611 830)">388</text>
<text x="648" y="820" font-size="6" transform="rotate(-15 648 820)">250</text>
<text x="685" y="811" font-size="6" transform="rotate(-15 685 811)">730</text>
<text x="742" y="814" font-size="6" transform="rotate(25 742 814)">76</text>
<text x="589" y="905" font-size="6" transform="rotate(80 589 905)">1100</text>
<text x="622" y="978" font-size="6" transform="rotate(55 622 978)">828</text>
<text x="680" y="851" font-size="6.5" font-weight="bold">40mmЖЖЖ</text>
<text x="777" y="809" font-size="6.5" font-weight="bold">dn25ЖЖ</text>
<text x="777" y="820" font-size="6.5">ЖЖЖЖ</text>
<text x="775" y="829">dn25 wire pipeline</text>
<text x="802" y="896" font-size="6.5" font-weight="bold">dn63ЖЖ</text>
<text x="802" y="907" font-size="6.5">ЖЖЖЖ</text>
<text x="798" y="917">dn63 drain</text>
<text x="736" y="929" font-size="6.5" font-weight="bold">10mmЖЖ</text>
<text x="743" y="939" font-size="6.5">ЖЖЖ</text>
<text x="715" y="949">place of plate pool filter</text>
<text x="715" y="960">thickness500mm</text>
<text x="787" y="979" font-size="6" font-weight="bold">ЖЖЖЖЖЖЖ</text>
<text x="787" y="984" font-size="3">reinforced concrete structure</text>
<text x="787" y="994" font-size="6" font-weight="bold">ЖЖЖЖЖЖ</text>
<text x="787" y="999" font-size="3">pool liner or tiles</text>
<text x="787" y="1008" font-size="6" font-weight="bold">ЖЖЖЖЖЖ</text>
<text x="787" y="1013" font-size="3">decoration material</text>
</g>
<rect x="762.6" y="971.5" width="20.4" height="12.2" fill="#a4a4a4"/>
<rect x="762.6" y="987" width="20.4" height="12.5" fill="url(#gtile)"/>
<rect x="762.6" y="1003" width="20.4" height="11" fill="#e3c98f"/>
<rect x="727" y="831" width="3" height="4" rx="1" fill="#eee"/><rect x="726" y="874" width="3" height="5" rx="1" fill="#ddd"/><rect x="753" y="893" width="3" height="5" rx="1" fill="#ddd"/>
<line x1="786" y1="890" x2="792" y2="886" stroke="#ccc" stroke-width="2"/>
</g>
<!-- F6 embedded renderings -->
<g id="f6">
<polygon points="884.7,827.9 900.5,824.9 1025.2,807.9 1104.1,821.9 1101.1,943 976,1007.5 897.9,957.5" fill="url(#conc)"/>
<polygon points="884.7,827.9 900.5,824.9 907.8,834 910.2,835.8 915,935 920.8,959.6 975,988.75 976,1007.5 897.9,957.5" fill="url(#gtile)"/>
<polygon points="910.2,835.8 966,855.2 975,988.75 920.8,959.6 915,935" fill="#1d9fd8"/>
<polygon points="910.2,835.8 1025.2,812.1 1089.6,823.7 990,849.2 966,855.2" fill="#0ad0f6"/>
<polygon points="966,855.2 1089.6,823.7 1088.3,889.8 1036.1,908 1036.1,852.8 1009.4,859.5 1012.5,972 975,988.75" fill="#0cc6f4"/>
<line x1="974.8" y1="822.2" x2="1036.1" y2="838.8" stroke="#0a6e98" stroke-width="0.7"/>
<line x1="966" y1="855.2" x2="1089.6" y2="823.7" stroke="#0a88b0" stroke-width="0.6"/>
<polygon points="1009.4,859.5 1036.1,852.8 1036.1,908 1012.5,972" fill="none"/>
<line x1="1010.5" y1="860" x2="1013" y2="971" stroke="#0a3a70" stroke-width="2"/>
<rect x="916.3" y="849.8" width="19.4" height="20.6" rx="2" fill="#6a8898" stroke="#0a5a80" stroke-width="0.6"/>
<ellipse cx="930.8" cy="899.6" rx="5.5" ry="9.7" fill="#b57ac8" stroke="#eee" stroke-width="0.6"/>
<ellipse cx="935.4" cy="942" rx="5.5" ry="9.7" fill="#b57ac8" stroke="#eee" stroke-width="0.6"/>
<ellipse cx="953.9" cy="885" rx="3.5" ry="6" fill="#334"/>
<ellipse cx="957.3" cy="939.5" rx="3.5" ry="5.5" fill="#334"/>
<line x1="921" y1="874" x2="926" y2="965" stroke="#7ae4f8" stroke-width="0.8"/>
<line x1="946" y1="874" x2="950" y2="975" stroke="#7ae4f8" stroke-width="0.8"/>
<circle cx="1067.7" cy="851.6" r="2.3" fill="#ddd" stroke="#555" stroke-width="0.5"/>
<circle cx="1075" cy="849.8" r="2.3" fill="#ddd" stroke="#555" stroke-width="0.5"/>
<line x1="1075" y1="814.6" x2="1083.5" y2="812.1" stroke="#ccc" stroke-width="2.2" stroke-linecap="round"/>
<line x1="1102.9" y1="886.2" x2="1115" y2="882.6" stroke="#ccc" stroke-width="2.2" stroke-linecap="round"/>
<text x="1045.8" y="1000" font-size="6.5" font-weight="bold" fill="#222">ЖЖЖЖЖЖЖ</text>
</g>

<!--ILLUS-->
</svg>
</body></html>
